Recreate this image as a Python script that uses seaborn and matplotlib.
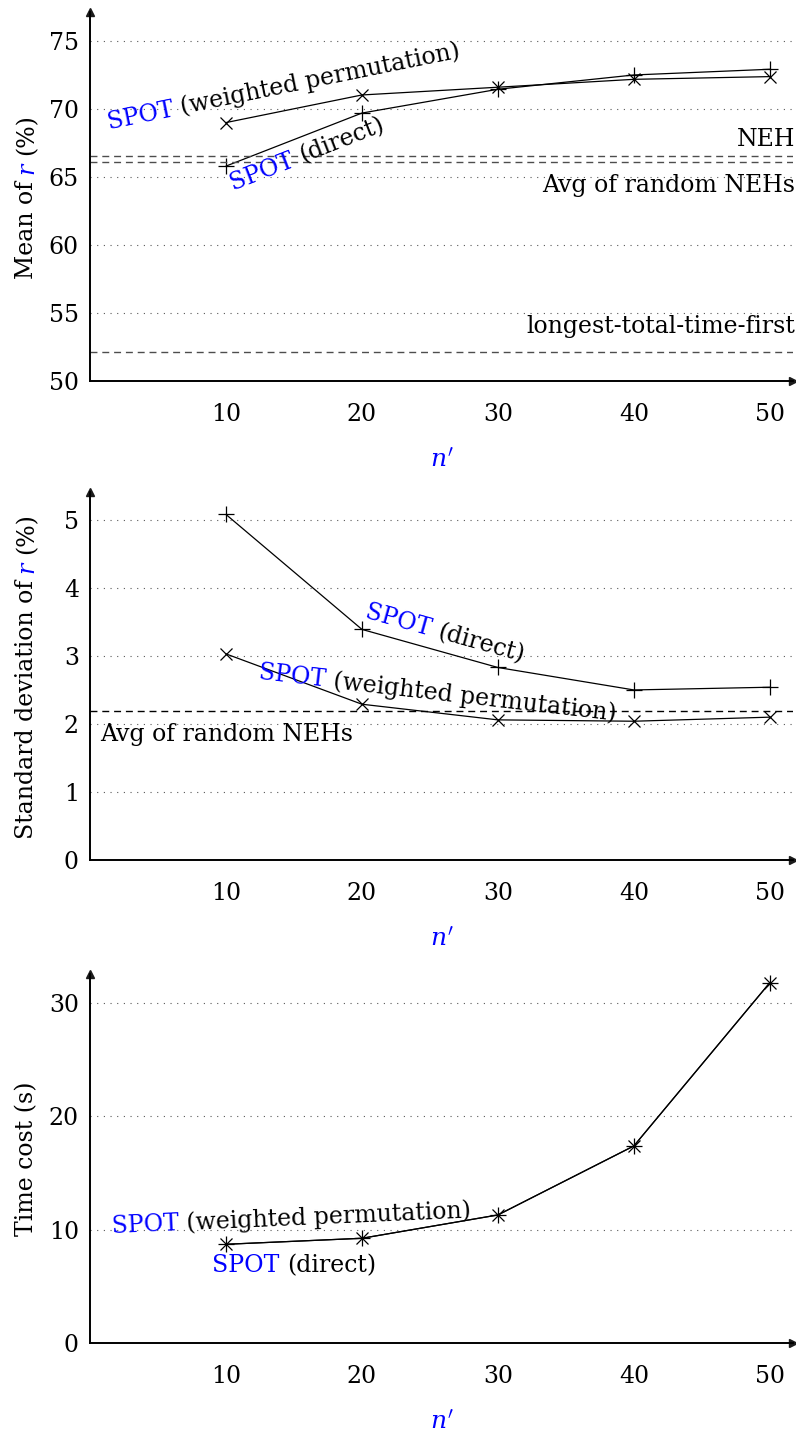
import numpy as np
import pandas as pd
import matplotlib
matplotlib.use('Agg')
import matplotlib.pyplot as plt
import seaborn as sns
from matplotlib.transforms import IdentityTransform

# data
n_prime = [10, 20, 30, 40, 50]

mean_direct = [65.8, 69.7, 71.45, 72.5, 72.92]
mean_weighted = [69.0, 71.03, 71.6, 72.18, 72.38]
mean_neh = 66.57
mean_avg_random = 66.13
mean_longest = 52.13

std_direct = [5.08, 3.39, 2.83, 2.50, 2.54]
std_weighted = [3.03, 2.29, 2.06, 2.04, 2.10]
std_avg_random = 2.19

time_direct = [8.71, 9.24, 11.3, 17.39, 31.8]
time_weighted = [8.71, 9.24, 11.3, 17.39, 31.8]

FS = 17
BLUE = (0, 0, 1)

sns.set_theme(style='white')
plt.rcParams['font.family'] = ['DejaVu Serif']
plt.rcParams['mathtext.fontset'] = 'dejavuserif'
plt.rcParams['lines.scale_dashes'] = False

fig = plt.figure(figsize=(7.96, 14.34), dpi=100)
W, H = 796, 1434
left, right = 90, 793
boxes = [(12, 381), (492, 860), (974, 1343)]   # top, bottom in pixels
ylims = [(50, 77.13), (0, 5.41), (0, 32.56)]
yticks = [np.arange(50, 76, 5), np.arange(0, 6, 1), np.arange(0, 31, 10)]
ylabels = [[('Mean of ', {}), ('r', dict(color=BLUE, fontstyle='italic')), (' (%)', {})],
           [('Standard deviation of ', {}), ('r', dict(color=BLUE, fontstyle='italic')), (' (%)', {})],
           [('Time cost (s)', {})]]

axes = []
for (top, bot), yl, yt in zip(boxes, ylims, yticks):
    ax = fig.add_axes([left / W, 1 - bot / H, (right - left) / W, (bot - top) / H])
    ax.set_xlim(0, 51.7)
    ax.set_ylim(*yl)
    ax.set_xticks(n_prime)
    ax.set_yticks(yt)
    for v in yt[1:]:
        ax.axhline(v, color='0.35', lw=0.8, ls=(0, (0.8, 4)), zorder=0)
    for s in ['top', 'right']:
        ax.spines[s].set_visible(False)
    for s in ['left', 'bottom']:
        ax.spines[s].set_linewidth(1.4)
        ax.spines[s].set_color('black')
    ax.tick_params(axis='x', direction='out', length=9, width=0.8, pad=7, labelsize=FS, colors='black')
    ax.tick_params(axis='y', length=0, pad=8, labelsize=FS, colors='black')
    ax.plot(1, 0, '>k', transform=ax.transAxes, clip_on=False, ms=6)
    ax.plot(0, 1, '^k', transform=ax.transAxes, clip_on=False, ms=6)
    ax.set_xlabel(r"$n'$", color=BLUE, fontsize=FS + 1, labelpad=16)
    ax.set_ylabel('')
    axes.append(ax)

series = [(mean_direct, mean_weighted), (std_direct, std_weighted), (time_direct, time_weighted)]
for ax, (d, w) in zip(axes, series):
    sns.lineplot(x=n_prime, y=d, ax=ax, color='black', lw=0.9, marker='+', markersize=12,
                 markeredgecolor='black', markeredgewidth=0.9)
    sns.lineplot(x=n_prime, y=w, ax=ax, color='black', lw=0.9, marker='x', markersize=9,
                 markeredgecolor='black', markeredgewidth=0.9)

dash = (0, (5, 3.5))
ax1, ax2, ax3 = axes
for v in [mean_neh, mean_avg_random, mean_longest]:
    ax1.axhline(v, color='0.3', lw=1.0, ls=dash)
ax2.axhline(std_avg_random, color='black', lw=1.0, ls=dash)

lab = dict(fontsize=FS, color='black', va='baseline')
ax1.annotate('NEH', xy=(1, mean_neh), xycoords=('axes fraction', 'data'),
             xytext=(2, 10), textcoords='offset pixels', ha='right', **lab)
ax1.annotate('Avg of random NEHs', xy=(1, mean_avg_random), xycoords=('axes fraction', 'data'),
             xytext=(2, -30), textcoords='offset pixels', ha='right', **lab)
ax1.annotate('longest-total-time-first', xy=(1, mean_longest), xycoords=('axes fraction', 'data'),
             xytext=(2, 19), textcoords='offset pixels', ha='right', **lab)
ax2.annotate('Avg of random NEHs', xy=(0, std_avg_random), xycoords=('axes fraction', 'data'),
             xytext=(10, -30), textcoords='offset pixels', ha='left', **lab)

renderer = fig.canvas.get_renderer()


def text_width(s, **kw):
    t = fig.text(0, 0, s, fontsize=FS, **kw)
    w = t.get_window_extent(renderer).width
    t.remove()
    return w


def rich_text(x, y, parts, angle=0.0, ha='center'):
    sp = text_width('a a') - text_width('aa')
    segs, total = [], 0.0
    for s, kw in parts:
        lead = len(s) - len(s.lstrip(' '))
        trail = len(s) - len(s.rstrip(' '))
        core = s.strip(' ')
        segs.append((total + lead * sp, core, kw))
        total += lead * sp + text_width(core, **kw) + trail * sp
    th = np.radians(angle)
    d = np.array([np.cos(th), np.sin(th)])
    shift = {'center': total / 2, 'right': total, 'left': 0}[ha]
    start = np.array([x, y]) - shift * d
    for off, core, kw in segs:
        px, py = start + off * d
        kw = dict(kw)
        kw.setdefault('color', 'black')
        fig.text(px, py, core, fontsize=FS, rotation=angle, rotation_mode='anchor',
                 ha='left', va='baseline', transform=IdentityTransform(), **kw)


# y labels
for ax, parts in zip(axes, ylabels):
    pos = ax.get_position()
    rich_text(33, (pos.y0 + pos.height / 2) * H, parts, angle=90)


def spot_label(ax, ys, seg, t, offset, name, sloped=True):
    p0 = ax.transData.transform((n_prime[seg], ys[seg]))
    p1 = ax.transData.transform((n_prime[seg + 1], ys[seg + 1]))
    v = p1 - p0
    d = v / np.hypot(*v) if sloped else np.array([1.0, 0.0])
    nrm = np.array([-d[1], d[0]])
    c = p0 + t * v + offset * nrm
    angle = np.degrees(np.arctan2(d[1], d[0]))
    rich_text(c[0], c[1], [('SPOT', dict(color=BLUE)), (' (' + name + ')', {})], angle=angle)


spot_label(ax1, mean_weighted, 0, 0.46, 17.5, 'weighted permutation')
spot_label(ax1, mean_direct, 0, 0.55, -25, 'direct')
spot_label(ax2, std_direct, 1, 0.57, 11.5, 'direct')
spot_label(ax2, std_weighted, 1, 0.54, 13, 'weighted permutation')
spot_label(ax3, time_weighted, 0, 0.49, 16, 'weighted permutation')
spot_label(ax3, time_direct, 0, 0.50, -31, 'direct', sloped=False)

fig.savefig('out.png', dpi=100)
